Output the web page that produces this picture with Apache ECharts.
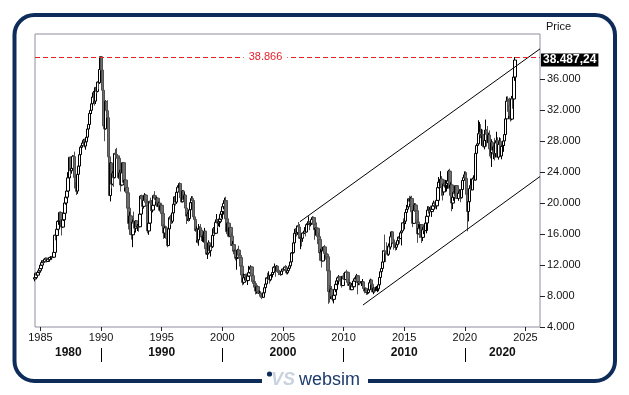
<!DOCTYPE html>
<html><head><meta charset="utf-8">
<script src="https://cdn.jsdelivr.net/npm/echarts@6/dist/echarts.min.js"></script>
<style>html,body{margin:0;padding:0;background:#fff}#c{width:629px;height:395px}</style>
</head><body><div id="c"></div>
<script>
// Nikkei 225, monthly candles, Jul 1984 .. Feb 2024
const firstMonth = [1984, 7];
const open = [
10200,10380,10940,10700,11050,11260,
11540,11990,12320,12580,12430,12760,12880,12460,12740,12700,12980,13030,
13110,13020,13640,15860,15830,16630,17650,17720,18790,17850,16910,17850,
18700,20020,20770,21570,23270,25930,24180,24490,26030,26010,23330,22690,
21560,23720,24790,26260,27230,27420,27770,28120,27370,27920,28520,29580,
30160,31580,31990,32840,33710,34270,33180,34950,34430,35640,35550,37270,
38920,37190,34590,29980,29590,33130,31940,31040,25980,20980,25190,22450,
23850,23290,26410,26290,26110,25790,23290,23900,22340,23920,25220,22690,
22980,22020,21340,19350,17390,18350,15950,15910,17560,17400,16770,17690,
16920,17020,16950,18590,20920,20550,19590,20380,21030,20110,19700,16410,
17420,20230,20000,19110,19730,20970,20640,20450,20630,19560,19990,19080,
19720,18650,17050,16140,16810,15440,14520,16680,18120,17910,17660,18740,
19870,20810,20130,21410,22040,21960,22530,20690,20170,21560,20470,21020,
19360,18330,18560,18000,19150,20070,20600,20330,18230,17890,16460,16640,
15260,16630,16830,16530,15640,15670,15830,16380,14110,13410,13560,14880,
13840,14500,14370,15840,16700,16110,17530,17860,17440,17610,17940,18560,
18930,19540,19960,20340,17970,16330,17410,15730,16860,15750,14540,14650,
13790,13840,12880,13000,13930,13260,12970,11860,10710,9770,10370,10700,
10540,10000,10590,11020,11490,11760,10620,9880,9620,9380,8640,9220,
8580,8340,8360,7970,7830,8420,9080,9560,10340,10220,10560,10100,
10680,10780,11040,11720,11760,11240,11860,11330,11080,10820,10770,11230,
11490,11390,11740,11670,11010,11280,11580,11900,12410,13570,13610,14870,
16110,16650,16210,17060,16910,15470,15510,15460,16140,16130,16400,16270,
17230,17380,17600,17290,17400,17880,18140,17250,16570,16790,16740,15680,
15310,13590,13600,12530,13850,14340,13480,13380,13070,11260,8580,8510,
8860,7990,7570,8110,8830,9520,9960,10360,10490,10130,10030,9350,
10550,10200,10130,11090,11060,9770,9380,9540,8820,9370,9200,9940,
10230,10240,10620,9760,9850,9690,9820,9830,8960,8700,8990,8430,
8460,8800,9720,10080,9520,8540,9010,8700,8840,8870,8930,9450,
10400,11140,11560,12400,13860,13770,13680,13670,13390,14460,14330,15660,
16290,14910,14840,14830,14300,14630,15160,15620,15420,16170,16410,17460,
17450,17670,18800,19210,19520,20560,20240,20590,18890,17390,19080,19750,
19030,17520,16030,16760,16670,17230,15580,16570,16890,16450,17430,18310,
19110,19040,19120,18910,19200,19650,20030,19930,19650,20360,22010,22720,
22760,23100,22070,21450,22470,22200,22300,22550,22870,24120,21920,22350,
20010,20770,21390,21210,22260,20600,21280,21520,20700,21760,22930,23290,
23660,23210,21140,18920,20190,21880,22290,21710,23140,23190,22980,26430,
27440,27660,28970,29180,28810,28860,28790,27280,28090,29450,28890,27820,
28790,27000,26530,27820,26850,27280,26390,27800,28090,25940,27590,27970,
26090,27330,27450,28040,28860,30890,33190,33170,32620,31860,30860,33490,
33460,36290];
const high = [
10450,11000,11000,11100,11300,11580,
12050,12400,12650,12700,12850,12950,12950,12800,12800,13000,13100,13150,
13200,13700,15900,16200,16700,17700,18000,18900,18950,17950,18000,18800,
20300,20800,21800,24000,25930,26000,25100,26200,26200,26650,23800,23000,
23800,24900,26300,27300,27700,28000,28300,28340,28100,28600,29700,30200,
31700,32300,32900,33800,34500,34300,35000,35300,35700,35900,37300,38957,
38950,37400,34700,31000,33300,33200,33300,31200,26500,25300,25300,24100,
24000,26500,27000,27150,26300,25900,24300,24000,24000,25300,25300,23000,
23800,22100,21500,19500,18900,18500,16500,17900,18900,17500,17800,17800,
17300,17600,18900,21000,21100,21000,20600,21300,21150,20500,19800,17700,
20300,20700,20400,19900,21100,21550,20900,20800,20700,20200,20000,19800,
19800,18900,17300,17000,17000,15500,16800,18300,18500,18100,18800,19900,
20900,21000,21500,22300,22500,22670,22600,21300,21700,21700,21400,21100,
19400,18800,18900,19200,20300,20900,20900,20400,18500,17900,17000,16800,
17300,17000,17300,16600,15900,15900,16800,16400,14600,14200,15200,15000,
14600,14600,16300,16900,16900,17600,18600,17900,18000,18100,18600,19000,
19600,20000,20700,20830,18000,17500,17700,16900,16900,16200,15100,14900,
14000,13900,13300,14100,14500,13600,13000,12000,10800,10900,10800,10900,
10900,10600,11900,11600,11980,11800,10900,10100,9900,9500,9300,9300,
8800,8700,8500,8200,8500,9200,10000,10400,11000,11200,10600,10700,
11000,11100,11800,12200,11800,12000,11900,11400,11300,11200,11300,11500,
11600,11800,12000,11900,11300,11600,11900,12500,13600,13800,14900,16200,
16700,16800,17100,17560,17300,15600,15700,16200,16400,16900,16500,17300,
17600,18300,17700,17800,17900,18300,18260,17300,16800,17500,16800,16200,
15400,14100,13700,13900,14400,14600,13700,13400,13200,11400,9500,9000,
9300,8100,8800,9100,9600,10170,10400,10700,10600,10400,10100,10600,
10980,10400,11100,11400,11100,10250,9800,9700,9700,9700,10200,10400,
10600,10860,10700,9900,10100,9900,10200,9900,9000,9100,9000,8700,
8900,9800,10250,10100,9600,9100,9100,9200,9300,9100,9500,10400,
11200,11600,12650,13900,15940,13800,14950,14100,14800,14800,15700,16320,
16300,15000,15300,14900,14700,15400,15700,15800,16400,16500,17500,18030,
17700,18800,19780,20130,20600,20950,20850,20950,18900,19100,20000,20000,
19100,17900,17300,17600,17250,17300,16900,16900,17100,17450,18400,19600,
19620,19500,19670,19300,19900,20320,20200,20100,20500,22100,23380,23000,
24130,23500,22500,22500,23050,23000,22950,22900,24300,24450,22700,22700,
20900,21500,21860,22300,22300,21300,21800,21600,22100,22950,23600,24100,
24120,23990,21700,20200,21950,23180,22900,23300,23600,23700,26800,27600,
28980,30710,30500,30200,29600,29500,28900,28200,30800,29500,29960,29100,
29400,27500,28250,28000,27400,28400,27900,29220,28500,27600,28500,28400,
27500,27700,28700,28900,31360,33770,33800,33500,33630,32500,33850,33850,
36980,38865];
const low = [
9900,10300,10600,10650,10950,11200,
11500,11900,12250,12200,12400,12700,12350,12400,12550,12600,12750,12900,
12880,12950,13600,15200,15500,16500,17200,17600,17500,15820,16800,17700,
18600,19800,20600,21500,23100,23500,23800,24300,25300,21900,21500,21040,
21200,23500,24700,26100,27000,27200,27500,27200,26900,27600,28400,29400,
29900,31400,31500,32700,33600,32600,32800,34200,34300,34700,35400,37200,
36800,33300,29800,28000,29500,31300,30900,25400,20980,20220,21900,22300,
22100,23200,25800,25900,25400,23100,22900,21500,22200,23700,22500,21500,
21900,20800,19100,16600,17300,15900,15300,14310,17300,16400,16200,16800,
16400,16300,16900,18500,19900,19400,19300,20200,19900,19500,16100,15900,
17300,19000,19000,18800,19700,20600,20200,20300,19500,19400,18900,18800,
17700,17000,15380,15500,15300,14300,14480,16500,17200,17300,17400,18600,
19700,19700,19900,21300,21500,21800,20500,20100,20100,20300,20200,19200,
17300,17700,17600,17700,19000,19900,19900,18100,17300,16300,14900,14800,
14500,16000,16200,15100,15000,14900,15700,14000,13300,12790,13400,13800,
13100,13900,14200,15700,15900,16000,17400,16800,17000,16900,17800,18100,
18200,19200,19100,17700,16000,16200,15600,15600,15600,14500,14100,13400,
13000,12600,11400,12800,13100,12500,11600,10600,9380,9500,10000,10000,
9900,9420,10500,10900,11400,10500,9800,9100,9000,8200,8300,8400,
8300,8300,7860,7600,7800,8400,9000,9400,10000,10200,9600,9900,
10300,10400,10800,11700,10500,11200,11000,10700,10800,10600,10700,10900,
11200,11300,11600,10800,10800,11200,11500,11700,12300,13000,13500,14800,
15100,15700,15900,16800,15400,14050,14400,15000,15600,16000,15700,16200,
16900,17200,16500,17000,17200,17800,17200,15270,15800,16300,14700,15100,
12570,13000,11690,12500,13600,13400,12700,12600,11000,6990,7160,7600,
7700,7300,7050,8000,8500,9400,9050,10100,9900,9700,9080,9300,
10200,9870,10100,10900,9450,9350,9100,8800,8800,9100,9100,9900,
10200,10200,8230,9400,9400,9300,9800,8600,8350,8400,8140,8200,
8300,8800,9700,9400,8500,8240,8400,8600,8700,8500,8620,9300,
10400,10900,11500,11800,13500,12400,13600,13200,13200,13800,14000,15200,
14700,13990,14200,13880,13960,14600,15100,14750,15400,14530,16300,16600,
16600,17300,18600,19000,19300,19900,19100,17700,16900,17300,18900,18600,
16600,14870,16000,15500,16000,14860,15100,16000,16400,16400,16100,18200,
18650,18800,18900,18220,19200,19600,19800,19300,19200,20300,21900,22100,
22700,20950,20350,21000,22000,21900,21500,21850,22400,20970,21200,18950,
19240,20300,20900,21100,20550,20300,21000,20110,20600,21300,22800,23000,
22900,21000,16360,17650,19450,21500,21700,21700,22900,22950,22950,26100,
27000,27600,28300,28400,27400,28000,27270,26950,28000,27300,27800,27600,
26040,25780,24680,26300,25690,25520,25900,27500,25940,25620,27100,25950,
25660,27000,26630,27400,28800,30800,31800,31270,31500,30540,30700,32200,
33300,35800];
const close = [
10380,10940,10700,11050,11260,11540,
11990,12320,12580,12430,12760,12880,12460,12740,12700,12980,13030,13110,
13020,13640,15860,15830,16630,17650,17720,18790,17850,16910,17850,18700,
20020,20770,21570,23270,25930,24180,24490,26030,26010,23330,22690,21560,
23720,24790,26260,27230,27420,27770,28120,27370,27920,28520,29580,30160,
31580,31990,32840,33710,34270,33180,34950,34430,35640,35550,37270,38920,
37190,34590,29980,29590,33130,31940,31040,25980,20980,25190,22450,23850,
23290,26410,26290,26110,25790,23290,23900,22340,23920,25220,22690,22980,
22020,21340,19350,17390,18350,15950,15910,17560,17400,16770,17690,16920,
17020,16950,18590,20920,20550,19590,20380,21030,20110,19700,16410,17420,
20230,20000,19110,19730,20970,20640,20450,20630,19560,19990,19080,19720,
18650,17050,16140,16810,15440,14520,16680,18120,17910,17660,18740,19870,
20810,20130,21410,22040,21960,22530,20690,20170,21560,20470,21020,19360,
18330,18560,18000,19150,20070,20600,20330,18230,17890,16460,16640,15260,
16630,16830,16530,15640,15670,15830,16380,14110,13410,13560,14880,13840,
14500,14370,15840,16700,16110,17530,17860,17440,17610,17940,18560,18930,
19540,19960,20340,17970,16330,17410,15730,16860,15750,14540,14650,13790,
13840,12880,13000,13930,13260,12970,11860,10710,9770,10370,10700,10540,
10000,10590,11020,11490,11760,10620,9880,9620,9380,8640,9220,8580,
8340,8360,7970,7830,8420,9080,9560,10340,10220,10560,10100,10680,
10780,11040,11720,11760,11240,11860,11330,11080,10820,10770,11230,11490,
11390,11740,11670,11010,11280,11580,11900,12410,13570,13610,14870,16110,
16650,16210,17060,16910,15470,15510,15460,16140,16130,16400,16270,17230,
17380,17600,17290,17400,17880,18140,17250,16570,16790,16740,15680,15310,
13590,13600,12530,13850,14340,13480,13380,13070,11260,8580,8510,8860,
7990,7570,8110,8830,9520,9960,10360,10490,10130,10030,9350,10550,
10200,10130,11090,11060,9770,9380,9540,8820,9370,9200,9940,10230,
10240,10620,9760,9850,9690,9820,9830,8960,8700,8990,8430,8460,
8800,9720,10080,9520,8540,9010,8700,8840,8870,8930,9450,10400,
11140,11560,12400,13860,13770,13680,13670,13390,14460,14330,15660,16290,
14910,14840,14830,14300,14630,15160,15620,15420,16170,16410,17460,17450,
17670,18800,19210,19520,20560,20240,20590,18890,17390,19080,19750,19030,
17520,16030,16760,16670,17230,15580,16570,16890,16450,17430,18310,19110,
19040,19120,18910,19200,19650,20030,19930,19650,20360,22010,22720,22760,
23100,22070,21450,22470,22200,22300,22550,22870,24120,21920,22350,20010,
20770,21390,21210,22260,20600,21280,21520,20700,21760,22930,23290,23660,
23210,21140,18920,20190,21880,22290,21710,23140,23190,22980,26430,27440,
27660,28970,29180,28810,28860,28790,27280,28090,29450,28890,27820,28790,
27000,26530,27820,26850,27280,26390,27800,28090,25940,27590,27970,26090,
27330,27450,28040,28860,30890,33190,33170,32620,31860,30860,33490,33460,
36290,38487.24];

const xTicks = [1985,1990,1995,2000,2005,2010,2015,2020,2025];
const yTicks = [4000,8000,12000,16000,20000,24000,28000,32000,36000];
const decadeTicks = [1990,2000,2010,2020];
const decadeLabelAt = [1987.3,1995,2005,2015,2023.1];
const decadeLabels = ['1980','1990','2000','2010','2020'];
const resistanceLevel = 38866;
const upperTrend = [[2006.4,17600],[2026.2,39930]];
const lowerTrend = [[2011.6,6840],[2026.2,23440]];

const FONT = '"Liberation Sans", Arial, sans-serif';
const RED = '#e8202a';
function fmtInt(v){ return String(Math.round(v)).replace(/\B(?=(\d{3})+(?!\d))/g,'.'); }
function fmtDec(v){ const p=v.toFixed(2).split('.'); return p[0].replace(/\B(?=(\d{3})+(?!\d))/g,'.')+','+p[1]; }

const rows = open.map((o,i)=>{
  const m = firstMonth[1]-1+i;
  const x = firstMonth[0] + (m + 0.5)/12;
  return [x, o, close[i], low[i], high[i]];
});
const lastClose = close[close.length-1];
const XMIN = 1984.55, XMAX = 2026.2;

const chart = echarts.init(document.getElementById('c'));
chart.setOption({
  animation:false,
  backgroundColor:'#fff',
  textStyle:{fontFamily:FONT},
  grid:{left:35,right:89,top:34,bottom:68,show:true,borderColor:'#8e8e9e',borderWidth:1,backgroundColor:'#fff'},
  xAxis:[{
    type:'value',min:XMIN,max:XMAX,
    axisLine:{show:false},splitLine:{show:false},
    axisTick:{show:true,customValues:xTicks,length:4,lineStyle:{color:'#222'}},
    axisLabel:{customValues:xTicks,margin:5,fontSize:11,color:'#111',fontFamily:FONT,formatter:v=>String(v)}
  },{
    type:'value',position:'bottom',offset:21,min:XMIN,max:XMAX,
    axisLine:{show:false},splitLine:{show:false},
    axisTick:{show:true,customValues:decadeTicks,length:14,lineStyle:{color:'#000',width:1}},
    axisLabel:{customValues:decadeLabelAt,margin:-1,fontSize:12,fontWeight:'bold',color:'#111',fontFamily:FONT,
      formatter:v=>{const i=decadeLabelAt.findIndex(d=>Math.abs(d-v)<1e-6);return i>=0?decadeLabels[i]:'';}}
  }],
  yAxis:{
    type:'value',position:'right',min:4000,max:41850,
    axisLine:{show:false},splitLine:{show:false},
    axisTick:{show:true,customValues:yTicks,length:5,lineStyle:{color:'#222'}},
    axisLabel:{customValues:yTicks,margin:7,fontSize:11,color:'#111',fontFamily:FONT,formatter:fmtInt},
    name:'Price',nameLocation:'end',nameGap:7,
    nameTextStyle:{align:'left',verticalAlign:'middle',fontSize:11,color:'#111',fontFamily:FONT,padding:[0,0,0,6]}
  },
  series:[{
    type:'candlestick',xAxisIndex:0,data:rows,barWidth:3,
    itemStyle:{color:'#ffffff',color0:'#6e6e6e',borderColor:'#000000',borderColor0:'#505050',borderWidth:1},
    markLine:{symbol:'none',silent:true,animation:false,
      lineStyle:{color:RED,type:[5,3],width:1,opacity:1},
      data:[
        {yAxis:resistanceLevel,lineStyle:{color:RED,type:[5,3],width:1,opacity:1},
         label:{show:true,position:'insideMiddle',formatter:'{a|'+fmtInt(resistanceLevel)+'}{b|}',
           rich:{a:{color:RED,backgroundColor:'#fff',padding:[1,5],fontSize:11,fontFamily:FONT},b:{width:44,height:10}}}},
        {yAxis:lastClose,lineStyle:{color:'rgba(0,0,0,0)',width:0},
         label:{show:true,position:'end',distance:1,formatter:fmtDec(lastClose),backgroundColor:'#000',color:'#fff',
           fontWeight:'bold',fontSize:12,fontFamily:FONT,padding:[1,2,0,2]}}
      ]}
  },{
    type:'line',data:upperTrend,showSymbol:false,symbol:'none',silent:true,lineStyle:{color:'#000',width:1}
  },{
    type:'line',data:lowerTrend,showSymbol:false,symbol:'none',silent:true,lineStyle:{color:'#000',width:1}
  }],
  graphic:[
    {type:'rect',shape:{x:14.5,y:15,width:600.5,height:366,r:20},style:{fill:null,stroke:'#0e2c5a',lineWidth:4}},
    {type:'rect',shape:{x:262,y:372,width:106,height:18},style:{fill:'#fff'}},
    {type:'circle',shape:{cx:269.5,cy:374,r:2.6},style:{fill:'#0e2c5a'}},
    {type:'text',x:271,y:380,style:{text:'VS',font:'italic bold 18px '+FONT,fill:'#c9d3e0',verticalAlign:'middle'}},
    {type:'text',x:299,y:380,style:{text:'websim',font:'18px '+FONT,fill:'#1d3b6c',verticalAlign:'middle'}}
  ]
});
</script></body></html>
